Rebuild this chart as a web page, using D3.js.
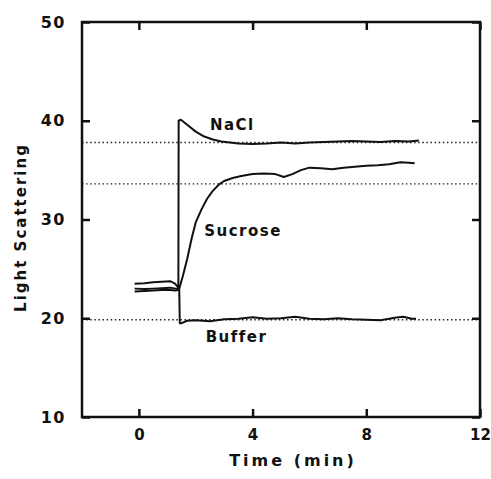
<!DOCTYPE html>
<html>
<head>
<meta charset="utf-8">
<script src="https://cdn.jsdelivr.net/npm/d3@7"></script>
<style>
  body { margin: 0; background: #fff; }
  text { font-family: "DejaVu Sans", sans-serif; font-weight: bold; fill: #111; }
</style>
</head>
<body>
<div class="grafico"></div>
<script>
// time (min) and light scattering readings
const naclTime = [-0.15, 0.2, 0.5, 0.8, 1.1, 1.27, 1.39, 1.40, 1.48, 1.7, 2.0, 2.3, 2.6, 2.9, 3.2, 3.5, 4.0, 4.5, 5.0, 5.5, 6.0, 6.5, 7.0, 7.5, 8.0, 8.5, 9.0, 9.5, 9.85];
const naclValue = [23.5, 23.55, 23.65, 23.7, 23.75, 23.5, 23.1, 40.0, 40.1, 39.6, 38.9, 38.4, 38.1, 37.9, 37.8, 37.7, 37.65, 37.7, 37.8, 37.7, 37.8, 37.85, 37.9, 37.95, 37.9, 37.85, 37.95, 37.9, 38.0];

const sucroseTime = [-0.15, 0.2, 0.5, 0.8, 1.1, 1.3, 1.42, 1.55, 1.7, 1.85, 2.0, 2.2, 2.4, 2.6, 2.8, 3.0, 3.3, 3.6, 4.0, 4.4, 4.8, 5.1, 5.4, 5.7, 6.0, 6.4, 6.8, 7.2, 7.6, 8.0, 8.4, 8.8, 9.2, 9.5, 9.7];
const sucroseValue = [23.0, 22.95, 23.0, 23.05, 23.1, 23.0, 23.0, 24.3, 26.0, 28.0, 29.7, 31.0, 32.1, 32.9, 33.5, 33.9, 34.2, 34.4, 34.6, 34.65, 34.6, 34.3, 34.6, 35.0, 35.25, 35.2, 35.1, 35.25, 35.35, 35.45, 35.5, 35.6, 35.8, 35.75, 35.7];

const bufferTime = [-0.15, 0.2, 0.5, 0.8, 1.1, 1.3, 1.42, 1.44, 1.5, 1.7, 2.0, 2.5, 3.0, 3.5, 4.0, 4.5, 5.0, 5.5, 6.0, 6.5, 7.0, 7.5, 8.0, 8.5, 9.0, 9.3, 9.6, 9.75];
const bufferValue = [22.7, 22.75, 22.8, 22.85, 22.85, 22.8, 22.9, 19.5, 19.5, 19.75, 19.8, 19.7, 19.9, 19.95, 20.1, 19.95, 20.0, 20.15, 19.95, 19.9, 20.0, 19.9, 19.85, 19.8, 20.05, 20.15, 19.95, 19.95];

// dotted reference levels
const refLevels = [37.8, 33.6, 19.85];

const xTicks = [0, 4, 8, 12];
const yTicks = [10, 20, 30, 40, 50];

const width = 491, height = 479;
const margin = { top: 22, right: 11, bottom: 62, left: 82 };

const svg = d3.select(".grafico")
    .append("svg")
    .attr("width", width)
    .attr("height", height);

const x = d3.scaleLinear().domain([-2, 12]).range([margin.left, width - margin.right]);
const y = d3.scaleLinear().domain([10, 50]).range([height - margin.bottom, margin.top]);

const line = d3.line()
    .x(d => x(d[0]))
    .y(d => y(d[1]));

// reference dotted lines
svg.selectAll(".ref")
    .data(refLevels)
    .enter().append("line")
    .attr("x1", x(-2))
    .attr("x2", x(12))
    .attr("y1", d => y(d))
    .attr("y2", d => y(d))
    .attr("stroke", "#222")
    .attr("stroke-width", 1.3)
    .attr("stroke-dasharray", "1.5,2.6");

// traces
const series = [
    d3.zip(naclTime, naclValue),
    d3.zip(sucroseTime, sucroseValue),
    d3.zip(bufferTime, bufferValue)
];
svg.selectAll(".trace")
    .data(series)
    .enter().append("path")
    .attr("d", line)
    .attr("fill", "none")
    .attr("stroke", "#111")
    .attr("stroke-width", 2)
    .attr("stroke-linejoin", "round");

// axes: ticks pointing inward on all four sides
const tickLen = 8;
const xAxis = svg.append("g")
    .attr("transform", `translate(0,${y(10)})`)
    .call(d3.axisBottom(x).tickValues(xTicks).tickSize(-tickLen).tickPadding(12))
    .call(g => g.select(".domain").remove());
svg.append("g")
    .attr("transform", `translate(0,${y(50)})`)
    .call(d3.axisTop(x).tickValues(xTicks).tickSize(-tickLen).tickFormat(""))
    .call(g => g.select(".domain").remove());
const yAxis = svg.append("g")
    .attr("transform", `translate(${x(-2)},0)`)
    .call(d3.axisLeft(y).tickValues(yTicks).tickSize(-tickLen).tickPadding(16))
    .call(g => g.select(".domain").remove());
svg.append("g")
    .attr("transform", `translate(${x(12)},0)`)
    .call(d3.axisRight(y).tickValues(yTicks).tickSize(-tickLen).tickFormat(""))
    .call(g => g.select(".domain").remove());

svg.selectAll(".tick line")
    .attr("stroke", "#111")
    .attr("stroke-width", 2.5);
xAxis.selectAll(".tick text")
    .style("font-size", "15px")
    .attr("fill", "#111");
yAxis.selectAll(".tick text")
    .style("font-size", "16px")
    .style("letter-spacing", "1.5px")
    .attr("fill", "#111");

// frame
svg.append("rect")
    .attr("x", x(-2))
    .attr("y", y(50))
    .attr("width", x(12) - x(-2))
    .attr("height", y(10) - y(50))
    .attr("fill", "none")
    .attr("stroke", "#111")
    .attr("stroke-width", 2.5);

// axis titles
svg.append("text")
    .attr("x", (x(-2) + x(12)) / 2 + 12)
    .attr("y", 466)
    .attr("text-anchor", "middle")
    .style("font-size", "16px")
    .style("letter-spacing", "3px")
    .text("Time (min)");

svg.append("text")
    .attr("transform", `translate(26,${(y(10) + y(50)) / 2 + 8}) rotate(-90)`)
    .attr("text-anchor", "middle")
    .style("font-size", "15px")
    .style("letter-spacing", "2px")
    .text("Light Scattering");

// curve labels
const labels = [
    { text: "NaCl", t: 2.5, v: 39.1 },
    { text: "Sucrose", t: 2.3, v: 28.3 },
    { text: "Buffer", t: 2.35, v: 17.6 }
];
svg.selectAll(".lbl")
    .data(labels)
    .enter().append("text")
    .attr("x", d => x(d.t))
    .attr("y", d => y(d.v))
    .style("font-size", "15px")
    .style("letter-spacing", "1.5px")
    .text(d => d.text);
</script>
</body>
</html>
